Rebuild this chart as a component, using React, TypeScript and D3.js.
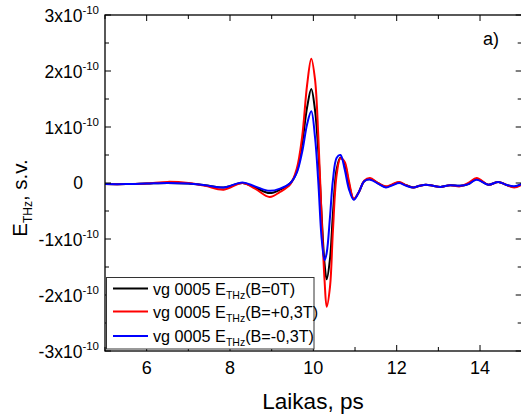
import React from "react";
import * as d3 from "d3";

// time, ps
const times = [5.0, 5.5, 6.0, 6.5, 7.0, 7.4, 7.85, 8.3, 8.6, 8.95, 9.2, 9.45, 9.6, 9.73, 9.85, 9.95, 10.04, 10.12, 10.2, 10.27, 10.32, 10.4, 10.47, 10.56, 10.65, 10.75, 10.85, 10.97, 11.1, 11.22, 11.36, 11.55, 11.74, 11.9, 12.06, 12.23, 12.4, 12.55, 12.7, 12.87, 13.05, 13.28, 13.52, 13.72, 13.92, 14.2, 14.44, 14.62, 14.82, 15.0];
// values in units of 1e-10
const seriesB0 = [-0.02, -0.02, -0.01, 0.0, -0.01, -0.04, -0.08, 0.0, -0.08, -0.18, -0.12, 0.0, 0.2, 0.7, 1.35, 1.68, 1.3, 0.55, -0.6, -1.45, -1.72, -1.35, -0.55, 0.25, 0.45, 0.35, 0.0, -0.29, -0.15, 0.03, 0.07, 0.0, -0.07, -0.03, 0.01, -0.04, -0.08, -0.05, -0.03, -0.05, -0.07, -0.04, -0.05, -0.02, 0.07, -0.03, 0.02, -0.03, -0.07, -0.02];
const seriesBplus = [-0.02, -0.02, -0.01, 0.02, 0.0, -0.05, -0.12, 0.0, -0.1, -0.25, -0.16, -0.02, 0.25, 0.82, 1.75, 2.22, 1.85, 0.82, -0.65, -1.75, -2.21, -1.85, -0.85, 0.15, 0.44, 0.38, 0.05, -0.28, -0.15, 0.04, 0.09, 0.0, -0.06, -0.02, 0.02, -0.04, -0.08, -0.05, -0.03, -0.05, -0.07, -0.04, -0.06, 0.0, 0.09, -0.03, 0.02, -0.03, -0.08, -0.03];
const seriesBminus = [-0.02, -0.02, -0.01, 0.0, -0.01, -0.04, -0.08, 0.01, -0.06, -0.14, -0.1, 0.0, 0.18, 0.55, 1.05, 1.28, 0.82, 0.0, -1.0, -1.38, -1.25, -0.6, 0.05, 0.45, 0.5, 0.25, -0.1, -0.3, -0.15, 0.03, 0.06, -0.01, -0.08, -0.04, 0.0, -0.05, -0.08, -0.05, -0.03, -0.05, -0.07, -0.04, -0.05, -0.02, 0.06, -0.03, 0.02, -0.03, -0.06, -0.02];

const xTicks = [6, 8, 10, 12, 14];
const xMinor = [5, 7, 9, 11, 13, 15];
const yTicks = [-3, -2, -1, 0, 1, 2, 3];
const yMinor = [-2.5, -1.5, -0.5, 0.5, 1.5, 2.5];
const legendLabels = ["(B=0T)", "(B=+0,3T)", "(B=-0,3T)"];
const colors = ["#000000", "#ff0000", "#0000ff"];

const FONT = "'Liberation Sans', Arial, sans-serif";

export default function App() {
  const W = 521, H = 419;
  const x0 = 105, x1 = 521.7, y0 = 15, y1 = 351;
  const x = d3.scaleLinear().domain([5, 15]).range([x0, x1]);
  const y = d3.scaleLinear().domain([-3, 3]).range([y1, y0]);
  const line = d3
    .line<[number, number]>()
    .x((d) => x(d[0]))
    .y((d) => y(d[1]))
    .curve(d3.curveCatmullRom.alpha(0.5));
  const all = [seriesB0, seriesBplus, seriesBminus];
  const paths = all.map((s) => line(times.map((t, i) => [t, s[i]] as [number, number])) || "");

  const majorLen = 6, minorLen = 4;
  const legRows = [288.5, 311.5, 336];

  return (
    <svg width={W} height={H} style={{ position: "absolute", left: 0, top: 0, background: "#fff" }} fontFamily={FONT}>
      <defs>
        <clipPath id="plotclip">
          <rect x={x0} y={y0} width={x1 - x0} height={y1 - y0} />
        </clipPath>
      </defs>
      {/* curves */}
      <g clipPath="url(#plotclip)">
        {paths.map((p, i) => (
          <path key={i} d={p} fill="none" stroke={colors[i]} strokeWidth={2} strokeLinejoin="round" />
        ))}
      </g>
      {/* frame */}
      <rect x={x0} y={y0} width={x1 - x0} height={y1 - y0} fill="none" stroke="#000" strokeWidth={1.3} />
      {/* x ticks */}
      {xTicks.map((t) => (
        <g key={"xt" + t}>
          <line x1={x(t)} x2={x(t)} y1={y1} y2={y1 - majorLen} stroke="#000" strokeWidth={1} />
          <line x1={x(t)} x2={x(t)} y1={y0} y2={y0 + majorLen} stroke="#000" strokeWidth={1} />
          <text x={x(t)} y={374} fontSize={18} textAnchor="middle">{t}</text>
        </g>
      ))}
      {xMinor.map((t) => (
        <g key={"xm" + t}>
          <line x1={x(t)} x2={x(t)} y1={y1} y2={y1 - minorLen} stroke="#000" strokeWidth={1} />
          <line x1={x(t)} x2={x(t)} y1={y0} y2={y0 + minorLen} stroke="#000" strokeWidth={1} />
        </g>
      ))}
      {/* y ticks */}
      {yTicks.map((t) => (
        <g key={"yt" + t}>
          <line x1={x0} x2={x0 + majorLen} y1={y(t)} y2={y(t)} stroke="#000" strokeWidth={1} />
          <line x1={x1} x2={x1 - majorLen} y1={y(t)} y2={y(t)} stroke="#000" strokeWidth={1} />
          {t === 0 ? (
            <text x={83} y={y(t) + 6} fontSize={17.5} textAnchor="end">0</text>
          ) : (
            <text x={99} y={y(t) + 7} fontSize={17.5} textAnchor="end">
              {t + "x10"}
              <tspan fontSize={11.5} dy={-8.5}>-10</tspan>
            </text>
          )}
        </g>
      ))}
      {yMinor.map((t) => (
        <g key={"ym" + t}>
          <line x1={x0} x2={x0 + minorLen} y1={y(t)} y2={y(t)} stroke="#000" strokeWidth={1} />
          <line x1={x1} x2={x1 - minorLen} y1={y(t)} y2={y(t)} stroke="#000" strokeWidth={1} />
        </g>
      ))}
      {/* axis titles */}
      <text x={313} y={409} fontSize={22.5} textAnchor="middle">Laikas, ps</text>
      <text transform="translate(27,198) rotate(-90)" fontSize={20.5} textAnchor="middle">
        E<tspan fontSize={12} dy={5}>THz</tspan>
        <tspan dy={-5}>, s.v.</tspan>
      </text>
      <text x={483} y={45} fontSize={18}>a)</text>
      {/* legend */}
      <rect x={106.5} y={277.5} width={207.5} height={71.5} fill="#fff" stroke="#333" strokeWidth={1} />
      {legendLabels.map((lab, i) => (
        <g key={"lg" + i}>
          <line x1={113} x2={148} y1={legRows[i]} y2={legRows[i]} stroke={colors[i]} strokeWidth={2} />
          <text x={153} y={legRows[i] + 6} fontSize={16.2}>
            {"vg 0005 E"}
            <tspan fontSize={10.5} dy={4}>THz</tspan>
            <tspan dy={-4}>{lab}</tspan>
          </text>
        </g>
      ))}
    </svg>
  );
}
